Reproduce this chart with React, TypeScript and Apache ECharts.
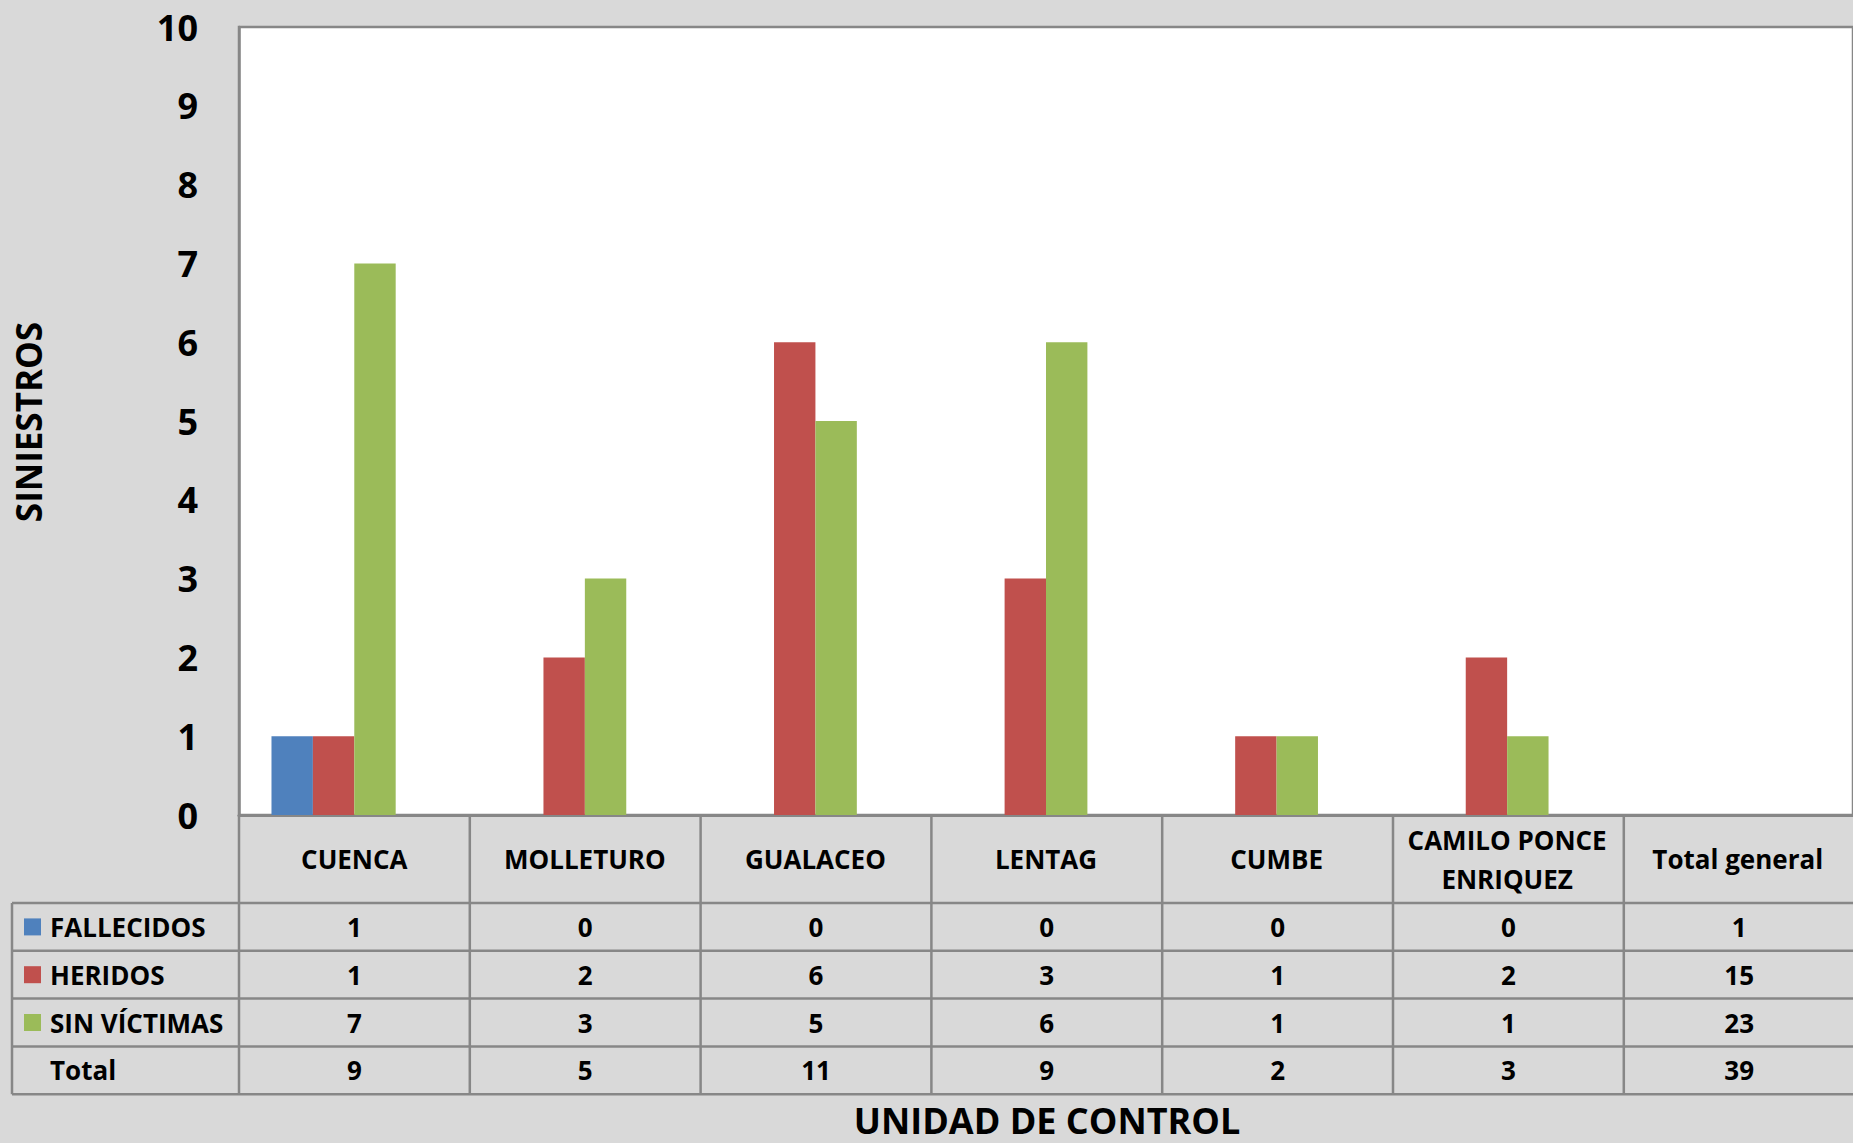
import React, { useEffect, useRef } from 'react';
import * as echarts from 'echarts';

const categories = ['CUENCA', 'MOLLETURO', 'GUALACEO', 'LENTAG', 'CUMBE', 'CAMILO PONCE\nENRIQUEZ', 'Total general'];
const fallecidos = [1, 0, 0, 0, 0, 0, 1];
const heridos = [1, 2, 6, 3, 1, 2, 15];
const sinVictimas = [7, 3, 5, 6, 1, 1, 23];
const totals = [9, 5, 11, 9, 2, 3, 39];
const seriesNames = ['FALLECIDOS', 'HERIDOS', 'SIN VÍCTIMAS'];
const totalLabel = 'Total';
const seriesColors = ['#4f81bd', '#c0504d', '#9bbb59'];
const yMin = 0;
const yMax = 10;
const yInterval = 1;
const yTitle = 'SINIESTROS';
const xTitle = 'UNIDAD DE CONTROL';

const W = 1853;
const H = 1143;
const FONT = "'Open Sans', 'Noto Sans', sans-serif";
const GRID_LEFT = 239;
const GRID_TOP = 27;
const GRID_BOTTOM = 815;
const COL_W = 230.8;
const GRID_W = COL_W * categories.length;
const TABLE_LEFT = 12;
const HEADER_BOTTOM = 903;
const ROW_H = 47.8;
const LINE_COLOR = '#878787';

export default function App() {
  const ref = useRef<HTMLDivElement>(null);

  useEffect(() => {
    if (!ref.current) return;
    const chart = echarts.init(ref.current, undefined, { renderer: 'svg' });

    // Chart bars exclude the "Total general" column
    const chartVals = (arr: number[]) => arr.map((v, i) => (i === categories.length - 1 ? null : v));
    const seriesData = [fallecidos, heridos, sinVictimas];

    const graphics: any[] = [];
    const tableRight = GRID_LEFT + GRID_W;
    const nRows = seriesData.length + 1;
    for (let r = 0; r <= nRows; r++) {
      const y = HEADER_BOTTOM + r * ROW_H;
      graphics.push({
        type: 'line',
        shape: { x1: TABLE_LEFT, y1: y, x2: tableRight, y2: y },
        style: { stroke: LINE_COLOR, lineWidth: 2.5 },
        silent: true,
      });
    }
    graphics.push({
      type: 'line',
      shape: { x1: TABLE_LEFT, y1: HEADER_BOTTOM, x2: TABLE_LEFT, y2: HEADER_BOTTOM + nRows * ROW_H },
      style: { stroke: LINE_COLOR, lineWidth: 2.5 },
      silent: true,
    });
    for (let c = 0; c <= categories.length; c++) {
      const x = GRID_LEFT + c * COL_W;
      graphics.push({
        type: 'line',
        shape: { x1: x, y1: GRID_BOTTOM, x2: x, y2: HEADER_BOTTOM + nRows * ROW_H },
        style: { stroke: LINE_COLOR, lineWidth: 2.5 },
        silent: true,
      });
    }
    const rowsVals = [...seriesData, totals];
    const rowNames = [...seriesNames, totalLabel];
    rowsVals.forEach((vals, r) => {
      const cy = HEADER_BOTTOM + r * ROW_H + ROW_H / 2;
      if (r < seriesColors.length) {
        graphics.push({
          type: 'rect',
          shape: { x: 24, y: cy - 8.5, width: 17, height: 17 },
          style: { fill: seriesColors[r] },
          silent: true,
        });
      }
      graphics.push({
        type: 'text',
        x: 50,
        y: cy,
        style: {
          text: rowNames[r],
          fill: '#000',
          font: `bold 26px ${FONT}`,
          textAlign: 'left',
          textVerticalAlign: 'middle',
        },
        silent: true,
      });
      vals.forEach((v, c) => {
        graphics.push({
          type: 'text',
          x: GRID_LEFT + c * COL_W + COL_W / 2,
          y: cy,
          style: {
            text: String(v),
            fill: '#000',
            font: `bold 26px ${FONT}`,
            textAlign: 'center',
            textVerticalAlign: 'middle',
          },
          silent: true,
        });
      });
    });
    graphics.push({
      type: 'text',
      x: 28,
      y: 422,
      rotation: Math.PI / 2,
      style: {
        text: yTitle,
        fill: '#000',
        font: `bold 35px ${FONT}`,
        textAlign: 'center',
        textVerticalAlign: 'middle',
      },
      silent: true,
    });
    graphics.push({
      type: 'text',
      x: GRID_LEFT + (W - GRID_LEFT) / 2 + 1,
      y: 1120,
      style: {
        text: xTitle,
        fill: '#000',
        font: `bold 36px ${FONT}`,
        textAlign: 'center',
        textVerticalAlign: 'middle',
      },
      silent: true,
    });

    chart.setOption({
      animation: false,
      backgroundColor: '#d9d9d9',
      grid: {
        left: GRID_LEFT,
        top: GRID_TOP,
        width: GRID_W,
        height: GRID_BOTTOM - GRID_TOP,
        show: true,
        backgroundColor: '#ffffff',
        borderColor: LINE_COLOR,
        borderWidth: 2.5,
      },
      xAxis: {
        type: 'category',
        data: categories,
        boundaryGap: true,
        axisLine: { show: true, lineStyle: { color: LINE_COLOR, width: 3 } },
        axisTick: { show: false },
        axisLabel: {
          interval: 0,
          color: '#000',
          fontFamily: FONT,
          fontWeight: 'bold',
          fontSize: 26,
          lineHeight: 39,
          margin: 44,
          verticalAlign: 'middle',
        },
      },
      yAxis: {
        type: 'value',
        min: yMin,
        max: yMax,
        interval: yInterval,
        splitLine: { show: false },
        axisLine: { show: true, lineStyle: { color: LINE_COLOR, width: 2.5 } },
        axisTick: { show: false },
        axisLabel: {
          color: '#000',
          fontFamily: FONT,
          fontWeight: 'bold',
          fontSize: 36,
          margin: 41,
        },
      },
      series: [
        ...seriesNames.map((name, i) => ({
          name,
          type: 'bar',
          data: chartVals(seriesData[i]),
          barWidth: 41.4,
          barGap: '0%',
          itemStyle: { color: seriesColors[i] },
        })),
        {
          name: totalLabel,
          type: 'bar',
          data: categories.map(() => null),
          barWidth: 41.4,
          barGap: '0%',
        },
      ],
      graphic: graphics,
    });

    return () => chart.dispose();
  }, []);

  return (
    <div
      ref={ref}
      style={{ position: 'absolute', left: 0, top: 0, width: W, height: H }}
    />
  );
}
